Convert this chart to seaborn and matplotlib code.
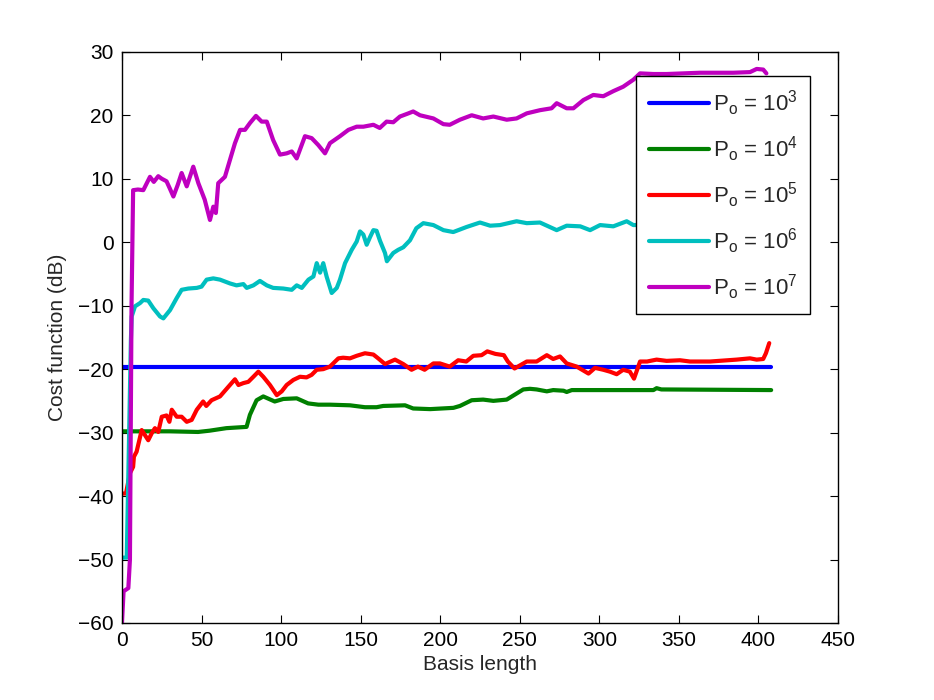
import matplotlib
matplotlib.use('Agg')
import matplotlib.pyplot as plt
import seaborn as sns

# values (Basis length vs cost function in dB)
blue_x = [0, 408]
blue_y = [-19.7, -19.7]

green_x = [0, 30, 47.8, 55, 65.6, 78.3, 80.4, 84.6, 88.8, 96, 101.4, 109.8, 117, 123.4,
           130.7, 143.3, 152.7, 160, 164.2, 177.9, 183, 193.7, 208.3, 212.4, 219.8, 227,
           233.4, 241.8, 247, 252.2, 256.4, 260.6, 267, 271, 277.5, 279.5, 282.7, 334,
           336, 339, 408]
green_y = [-29.8, -29.8, -29.9, -29.7, -29.3, -29.1, -27.2, -24.9, -24.3, -25.1, -24.7,
           -24.6, -25.4, -25.6, -25.6, -25.7, -26, -26, -25.8, -25.7, -26.2, -26.3, -26.1,
           -25.8, -24.9, -24.8, -25, -24.8, -24, -23.2, -23.1, -23.2, -23.5, -23.3, -23.4,
           -23.6, -23.3, -23.3, -23, -23.2, -23.3]

red_x = [0, 2.5, 5, 7, 7.5, 9.2, 12.4, 16.5, 18.7, 20.7, 22.8, 25, 28, 29.8, 31.3, 34.4,
         37.5, 40.7, 43.8, 47, 51, 53, 56.3, 61.6, 66.8, 71, 73.2, 76.3, 79.4, 82.6, 85.7,
         88.8, 93, 97.3, 100.4, 103.5, 107.7, 111.9, 116, 119.2, 122.4, 126.5, 130.7, 136,
         139, 143.3, 147.5, 152.7, 158, 161, 165.3, 171.6, 176.8, 182, 186, 190.2, 195.7,
         199.8, 206, 211.3, 216.4, 220.8, 226, 229.6, 234.7, 240, 242.5, 246.7, 254.4,
         260.6, 267, 271, 275.3, 279.5, 285.8, 293.2, 297.3, 302.5, 306.7, 310.9, 315,
         319.2, 321.8, 325.6, 330, 336, 342.3, 350.7, 357, 369.6, 386.3, 394.7, 398.9,
         403, 404.7, 406.8]
red_y = [-39.6, -39.6, -36.4, -35.4, -33.8, -33, -29.6, -31.2, -30.1, -29.3, -29.9, -27.5,
         -27.3, -28.3, -26.4, -27.5, -27.5, -28.3, -28, -26.4, -25.1, -25.8, -24.9, -24.3,
         -22.8, -21.6, -22.5, -22.2, -22, -21.2, -20.4, -21.2, -22.5, -24.1, -23.5, -22.5,
         -21.7, -21.2, -21.3, -20.9, -20.1, -20, -19.6, -18.3, -18.2, -18.3, -17.9, -17.5,
         -17.7, -18.3, -19.2, -18.5, -19.2, -20.1, -19.6, -20.1, -19.1, -19.1, -19.6, -18.6,
         -18.8, -17.9, -17.8, -17.2, -17.6, -17.8, -18.8, -19.9, -18.8, -18.8, -17.8, -18.4,
         -18, -19.1, -19.6, -20.7, -19.8, -20.1, -20.4, -20.8, -20.1, -20.4, -21.5, -18.8,
         -18.8, -18.5, -18.7, -18.6, -18.8, -18.8, -18.5, -18.3, -18.5, -18.4, -17.5, -15.9]

cyan_x = [0, 3, 4.5, 5.6, 6.1, 8.2, 11.3, 13.4, 16.5, 19.7, 23.9, 26, 30.2, 34.4, 37.5,
          41.7, 47, 50, 53.2, 57.4, 61.6, 67.9, 72, 76.3, 78.4, 82.6, 86.7, 91, 95, 101.4,
          106.7, 109.8, 113, 117.2, 120.3, 122.4, 124.5, 126.5, 128.6, 131.8, 135, 137,
          140.2, 144.4, 147.5, 149.6, 151.7, 153.8, 155.9, 158, 160, 162.2, 165.3, 166.5,
          170.5, 173.6, 176.8, 181, 185, 189.4, 195.7, 202, 208.2, 216.6, 225, 231.4, 237.6,
          248, 254.4, 262.7, 273.2, 279.5, 288, 294.2, 300.5, 308.8, 317.2, 321.4, 340, 370,
          405]
cyan_y = [-49.7, -49.7, -30, -15.4, -11.7, -10.1, -9.6, -9.1, -9.2, -10.4, -11.7, -12,
          -10.7, -8.8, -7.5, -7.3, -7.2, -7, -5.9, -5.7, -5.9, -6.5, -6.8, -6.6, -7.2, -6.8,
          -6.1, -6.8, -7.2, -7.3, -7.5, -6.8, -7.2, -5.9, -5.4, -3.3, -4.8, -3.3, -5.4, -8,
          -7.2, -5.9, -3.3, -1.2, 0.1, 1.7, 1.2, -0.4, 0.8, 1.9, 1.8, 0.2, -1.7, -3, -1.7,
          -1.2, -0.8, 0.3, 2.2, 3, 2.7, 1.9, 1.6, 2.4, 3.1, 2.6, 2.7, 3.3, 3, 3.1, 1.9, 2.6,
          2.5, 1.9, 2.7, 2.5, 3.3, 2.7, 2.8, 2.9, 3]

mag_x = [0, 1, 4, 5, 6, 7, 10, 13.4, 15, 17.6, 20, 22.8, 25, 28, 30, 32.3, 35, 37.5, 40.7,
         44.8, 48, 52, 55.3, 57.4, 59, 60.5, 64.7, 67.9, 71, 74.2, 77.3, 80.5, 84.2, 87.8,
         91, 95, 99.3, 103.5, 106.7, 109.8, 115, 119.2, 123.4, 127.6, 130.7, 137, 142.3,
         147.5, 151.7, 158, 162, 166.3, 170.5, 174.7, 180, 183, 187.3, 195.7, 202, 206,
         212.4, 219.8, 227, 233.4, 241.8, 248, 254.4, 262.7, 270, 273.2, 279.5, 283.7, 290,
         296.2, 302.5, 308.8, 315, 321.4, 325.6, 334, 342.3, 352.8, 363.3, 384.2, 394.7,
         398.9, 403, 405]
mag_y = [-60, -55, -54.5, -50, -10, 8.2, 8.3, 8.2, 9, 10.3, 9.5, 10.4, 10, 9.6, 8.5, 7.2,
         9, 10.9, 8.8, 11.9, 9.3, 6.7, 3.5, 5.6, 4.6, 9.3, 10.3, 13, 15.6, 17.7, 17.7, 18.8,
         19.9, 19, 19, 16.1, 13.8, 14, 14.3, 13.2, 16.7, 16.4, 15.3, 14, 15.6, 16.7, 17.7,
         18.2, 18.2, 18.5, 18, 19, 18.9, 19.8, 20.3, 20.6, 20, 19.5, 18.6, 18.5, 19.3, 20,
         19.5, 19.8, 19.3, 19.5, 20.3, 20.8, 21.1, 21.9, 21.1, 21.1, 22.4, 23.2, 23, 23.8,
         24.5, 25.6, 26.6, 26.5, 26.5, 26.6, 26.7, 26.7, 26.8, 27.3, 27.2, 26.6]

labels = [r'P$_\mathrm{o}$ = 10$^{3}$', r'P$_\mathrm{o}$ = 10$^{4}$',
          r'P$_\mathrm{o}$ = 10$^{5}$', r'P$_\mathrm{o}$ = 10$^{6}$',
          r'P$_\mathrm{o}$ = 10$^{7}$']
colors = ['#0000ff', '#008000', '#ff0000', '#00bfbf', '#bf00bf']

sns.set_style('ticks')
plt.rcParams['font.family'] = ['Liberation Sans', 'DejaVu Sans']
plt.rcParams['mathtext.fontset'] = 'custom'
plt.rcParams['mathtext.rm'] = 'Liberation Sans'
plt.rcParams['mathtext.it'] = 'Liberation Sans:italic'
plt.rcParams['axes.linewidth'] = 1.0
plt.rcParams['axes.edgecolor'] = 'black'

fig = plt.figure(figsize=(9.34, 7), dpi=100)
ax = fig.add_axes([0.1306, 0.11, 0.7666, 0.816])

series = [(blue_x, blue_y), (green_x, green_y), (red_x, red_y),
          (cyan_x, cyan_y), (mag_x, mag_y)]
for (xs, ys), lab, col in zip(series, labels, colors):
    sns.lineplot(x=xs, y=ys, color=col, lw=3, label=lab, ax=ax, sort=False)

ax.set_xlim(0, 450)
ax.set_ylim(-60, 30)
ax.set_xticks(range(0, 451, 50))
ax.set_yticks(range(-60, 31, 10))
ax.tick_params(direction='in', length=6, width=0.8, labelsize=15, pad=6,
               top=True, right=True, colors='black')
ax.set_xlabel('Basis length', fontsize=15, labelpad=3)
ax.set_ylabel('Cost function (dB)', fontsize=15, labelpad=8)
for s in ax.spines.values():
    s.set_visible(True)
    s.set_color('black')

leg = ax.legend(loc='upper right', bbox_to_anchor=(0.961, 0.958), borderaxespad=0,
                fontsize=16, handlelength=2.7, handletextpad=0.2, labelspacing=0.75,
                fancybox=False, framealpha=1, edgecolor='black', borderpad=0.55)
leg.get_frame().set_linewidth(1.0)

fig.savefig('out.png', dpi=100)
